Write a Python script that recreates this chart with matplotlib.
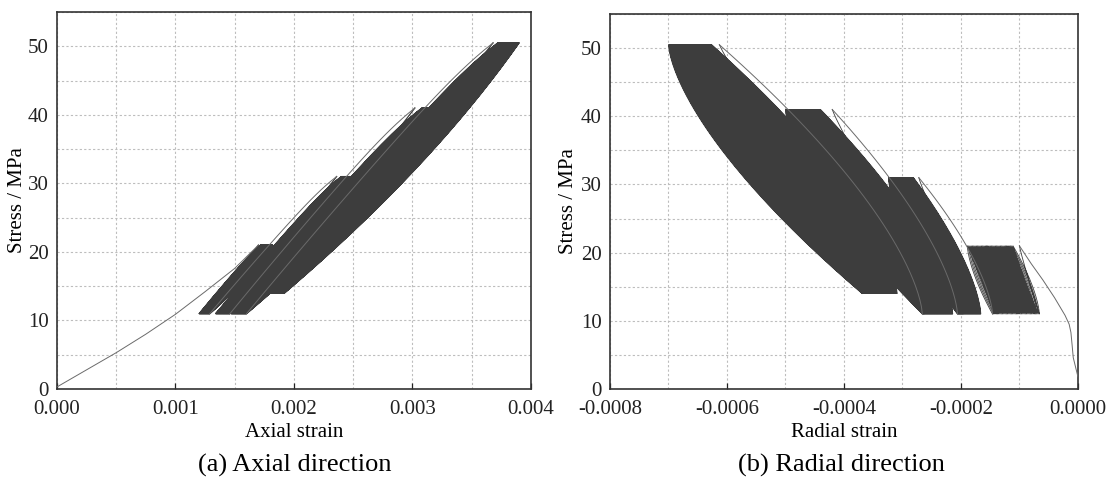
import numpy as np
import matplotlib
matplotlib.use("Agg")
import matplotlib.pyplot as plt
from matplotlib.ticker import MultipleLocator

plt.rcParams['font.family'] = ['Liberation Serif', 'DejaVu Serif']
plt.rcParams['font.size'] = 15

# ---- loading programme: four cyclic stages (stress in MPa) ----
stage_min = [11, 11, 11, 14]
stage_max = [21, 31, 41, 50.5]
axial_cycles = [60, 80, 90, 100]
radial_cycles = [38, 70, 90, 100]

# ---- axial direction ----
axial_init_strain = [0.0, 0.00025, 0.0005, 0.00075, 0.001, 0.00125, 0.0015, 0.0017]
axial_init_stress = [0.3, 2.8, 5.3, 8.0, 10.9, 14.2, 17.6, 21.0]
axial_first_peak = [0.00170, 0.00236, 0.00302, 0.00368]
axial_peak_first = [0.00172, 0.00240, 0.00308, 0.00372]
axial_peak_last = [0.00182, 0.00252, 0.00324, 0.00390]
axial_valley_first = [0.00120, 0.00134, 0.00147, 0.00176]
axial_valley_last = [0.00129, 0.00146, 0.00160, 0.00192]

# ---- radial direction ----
radial_init_strain = [0.0, -0.000004, -0.000008, -0.000010, -0.000012, -0.000015,
                      -0.000022, -0.00004, -0.00006, -0.00008, -0.000100]
radial_init_stress = [1.8, 3.2, 4.6, 6.5, 8.3, 9.5, 10.8, 13.4, 16.0, 18.4, 21.0]
radial_first_peak = [-0.000100, -0.000272, -0.000420, -0.000613]
radial_peak_first = [-0.000111, -0.000281, -0.000440, -0.000626]
radial_peak_last = [-0.000189, -0.000324, -0.000500, -0.000700]
radial_valley_first = [-0.000066, -0.000166, -0.000214, -0.000309]
radial_valley_last = [-0.000146, -0.000206, -0.000266, -0.000369]

axial_ticks = [0.0, 0.001, 0.002, 0.003, 0.004]
axial_tick_labels = ['0.000', '0.001', '0.002', '0.003', '0.004']
radial_ticks = [-0.0008, -0.0006, -0.0004, -0.0002, 0.0]
radial_tick_labels = ['-0.0008', '-0.0006', '-0.0004', '-0.0002', '0.0000']
stress_ticks = [0, 10, 20, 30, 40, 50]

BAND = '#3d3d3d'
THIN = '#6a6a6a'


# branch shapes: fraction of the valley-to-peak strain reached at stress fraction u,
# with a shape parameter that evolves from the first to the last cycle of a stage
def axial_load(u, c):
    return 0.96 * (u + c * u * (1 - u)) + 0.04 * u ** 10


def axial_unload(u, c):
    return u + c * u * (1 - u)


def radial_load(u, p):
    return u ** p


def radial_unload(u, q):
    return 1 - (1 - u) ** q


AXIAL_LOAD_PARAM = (-0.05, 0.05)
AXIAL_UNLOAD_PARAM = (0.15, 0.25)
RADIAL_LOAD_PARAM = (1.5, 1.1)
RADIAL_UNLOAD_PARAM = (1.1, 1.5)


def branch(x_lo, s_lo, x_hi, s_hi, shape, par, rising, n=40):
    u = np.linspace(0.0, 1.0, n)
    if not rising:
        u = u[::-1]
    return x_lo + (x_hi - x_lo) * shape(u, par), s_lo + (s_hi - s_lo) * u


def draw_test(ax, init_x, init_s, first_peak, peak_a, peak_b, valley_a, valley_b,
              cycles, load, unload, load_par, unload_par, band_lw):
    ax.plot(init_x, init_s, color=THIN, lw=0.7, zorder=3)
    x_prev, s_prev = init_x[-1], init_s[-1]
    for k in range(len(stage_min)):
        smin, smax = stage_min[k], stage_max[k]
        if k > 0:
            tx, ts = branch(x_prev, s_prev, first_peak[k], smax, load, load_par[0], True)
            ax.plot(tx, ts, color=THIN, lw=0.7, zorder=3)
        n = cycles[k]
        valleys = np.linspace(valley_a[k], valley_b[k], n)
        peaks = np.linspace(peak_a[k], peak_b[k], n - 1)
        lpar = np.linspace(load_par[0], load_par[1], n - 1)
        upar = np.linspace(unload_par[0], unload_par[1], n)
        xs, ss = [], []
        top = first_peak[k]
        for i in range(n):
            ux, us = branch(valleys[i], smin, top, smax, unload, upar[i], False)
            xs.append(ux)
            ss.append(us)
            if i < n - 1:
                lx, ls = branch(valleys[i], smin, peaks[i], smax, load, lpar[i], True)
                xs.append(lx)
                ss.append(ls)
                top = peaks[i]
        lw = band_lw[k] if isinstance(band_lw, (list, tuple)) else band_lw
        ax.plot(np.concatenate(xs), np.concatenate(ss), color=BAND,
                lw=lw, solid_joinstyle='round', zorder=2)
        x_prev, s_prev = valleys[-1], smin


def style(ax, xlim, minor_x, ticks, labels, xlabel, ylabel_x):
    ax.set_xlim(*xlim)
    ax.set_ylim(0, 55)
    ax.set_xticks(ticks, labels)
    ax.set_yticks(stress_ticks)
    ax.xaxis.set_minor_locator(MultipleLocator(minor_x))
    ax.yaxis.set_minor_locator(MultipleLocator(5))
    ax.grid(True, which='both', color='#bdbdbd', lw=0.8, ls=(0, (2, 2)), zorder=0)
    ax.tick_params(axis='x', which='major', direction='in', length=4, width=0.9,
                   pad=8, colors='#222222')
    ax.tick_params(axis='y', which='major', length=0, pad=6, colors='#222222')
    ax.tick_params(which='minor', length=0)
    for sp in ax.spines.values():
        sp.set_color('#333333')
        sp.set_linewidth(1.2)
    ax.set_xlabel(xlabel, labelpad=3)
    ax.set_ylabel('Stress / MPa')
    ax.yaxis.set_label_coords(ylabel_x, 0.5)
    ax.set_axisbelow(True)


fig = plt.figure(figsize=(11.19, 4.96), dpi=100)
ax1 = fig.add_axes([0.0509, 0.2157, 0.4236, 0.760])
ax2 = fig.add_axes([0.5451, 0.2157, 0.4182, 0.756])

draw_test(ax1, axial_init_strain, axial_init_stress, axial_first_peak,
          axial_peak_first, axial_peak_last, axial_valley_first, axial_valley_last,
          axial_cycles, axial_load, axial_unload, AXIAL_LOAD_PARAM, AXIAL_UNLOAD_PARAM, 0.9)
draw_test(ax2, radial_init_strain, radial_init_stress, radial_first_peak,
          radial_peak_first, radial_peak_last, radial_valley_first, radial_valley_last,
          radial_cycles, radial_load, radial_unload, RADIAL_LOAD_PARAM, RADIAL_UNLOAD_PARAM,
          [0.6, 0.6, 0.6, 0.6])

style(ax1, (0, 0.004), 0.0005, axial_ticks, axial_tick_labels, 'Axial strain', -0.064)
style(ax2, (-0.0008, 0.0), 0.0001, radial_ticks, radial_tick_labels, 'Radial strain', -0.068)

fig.text(0.263, 0.062, '(a) Axial direction', ha='center', va='center', fontsize=19)
fig.text(0.752, 0.062, '(b) Radial direction', ha='center', va='center', fontsize=19)

fig.savefig('out.png', dpi=100)
